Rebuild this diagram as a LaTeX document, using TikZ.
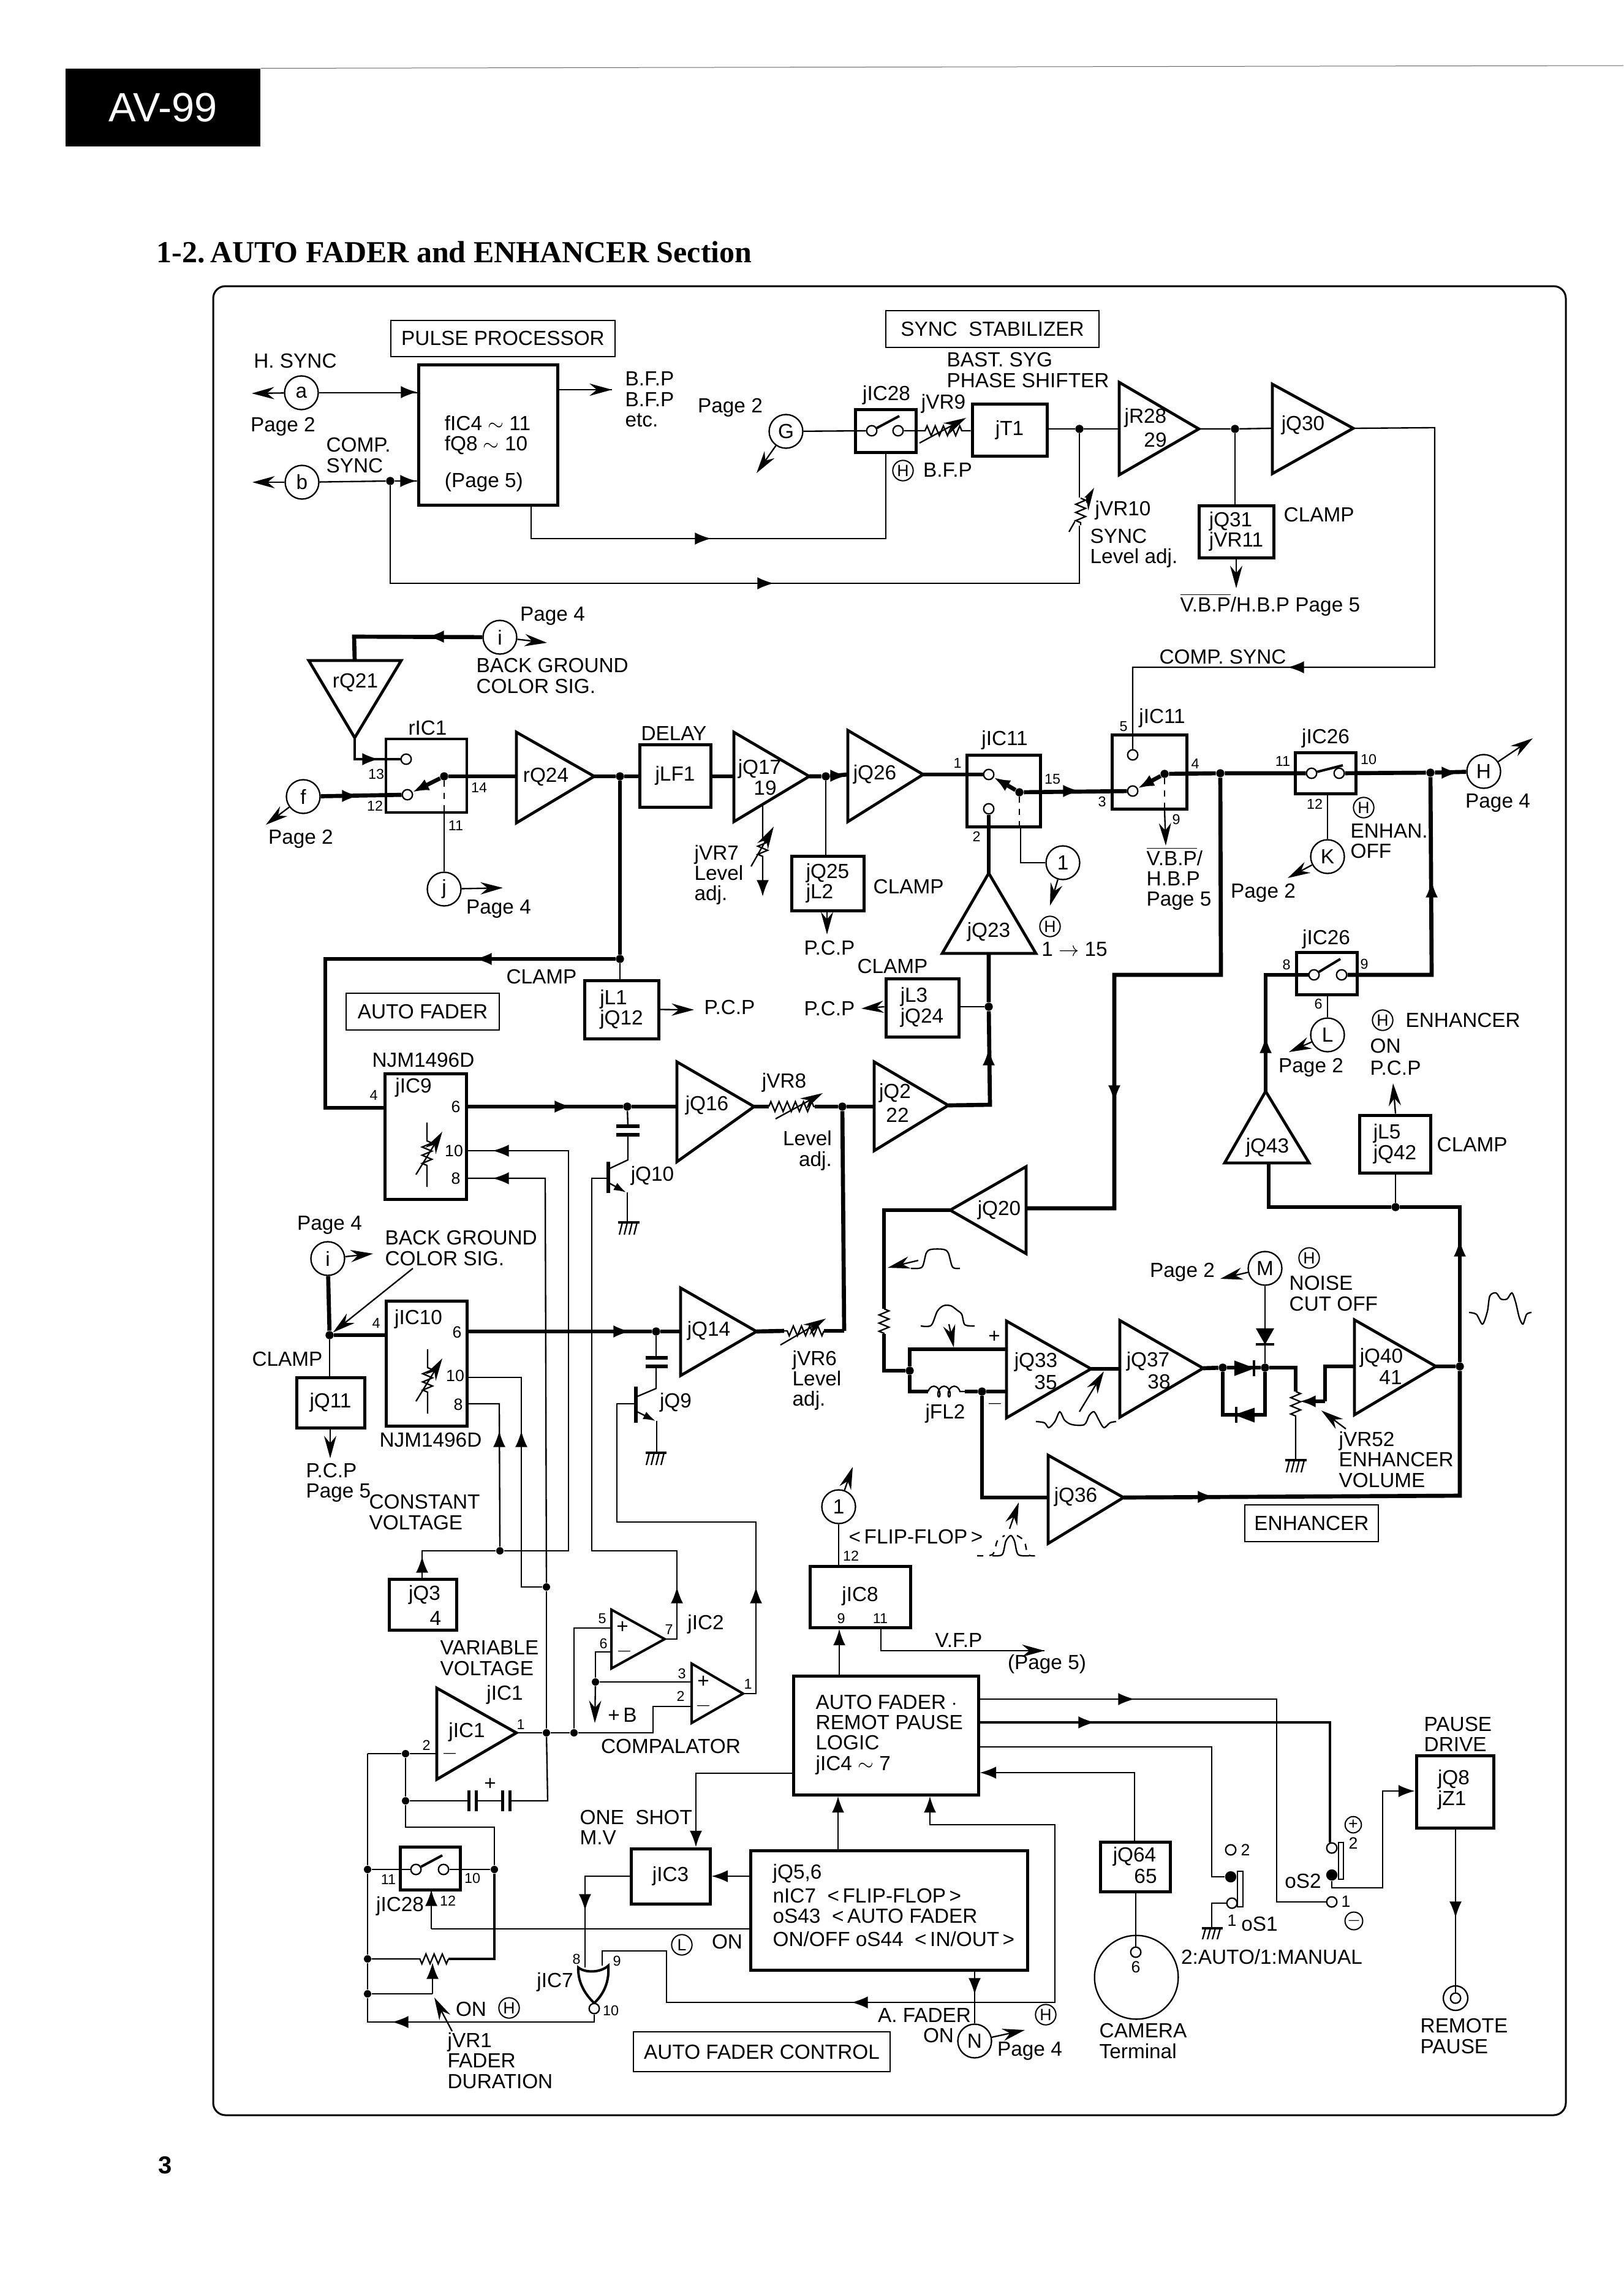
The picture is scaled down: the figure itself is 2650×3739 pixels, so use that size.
\documentclass[tikz,border=0pt]{standalone}
\usepackage{fontspec}
\usepackage{amsmath,amssymb}
\setmainfont{Liberation Sans}
\newfontfamily\titlefont{Liberation Serif}
\usetikzlibrary{arrows.meta,shapes.geometric,decorations.pathmorphing}
\begin{document}
\begin{tikzpicture}[x=0.3pt,y=-0.3pt]
\tikzstyle{every node}+=[inner sep=0pt]
\tikzstyle{lbl}=[font=\fontsize{10}{10}\selectfont,align=left]
\tikzstyle{lblw}=[lbl,anchor=west]
\tikzstyle{pin}=[font=\fontsize{7}{8}\selectfont]
\tikzstyle{blk}=[draw=black,line width=1.5pt,lbl]
\tikzstyle{tag}=[draw=black,line width=.7pt,lbl]
\tikzstyle{port}=[draw=black,line width=.7pt,circle,minimum size=16.5pt,lbl]
\tikzstyle{hport}=[draw=black,line width=.6pt,circle,minimum size=10pt,font=\fontsize{8}{8}\selectfont]
\tikzstyle{dot}=[circle,fill=black,minimum size=4pt]
\tikzstyle{term}=[draw=black,line width=.7pt,fill=white,circle,minimum size=5pt]
\tikzstyle{amp}=[draw=black,line width=1.4pt,line join=miter]
\tikzstyle{sig}=[line width=2pt]
\tikzstyle{wire}=[line width=.7pt]
\tikzstyle{ah}=[line width=.7pt,-{Latex[length=8pt,width=6pt]}]
\tikzstyle{flag}=[line width=.7pt,-{Stealth[length=11pt,width=6pt]}]
\tikzstyle{zig}=[decoration={zigzag,segment length=4pt,amplitude=2.4pt}]
\tikzstyle{coilz}=[decoration={coil,aspect=.6,segment length=5pt,amplitude=2.6pt}]
\useasboundingbox (0,0) rectangle (2650,3739);
\node [fill=black,text=white,minimum width=95.4pt,minimum height=38pt,font=\fontsize{20}{20}\selectfont] (hdr) at (266,175.5) {AV-99};
\draw [black!60,line width=.3pt] (hdr.north east) -- (2650,107) coordinate (rule);
\node [anchor=west,font=\titlefont\bfseries\fontsize{15}{18}\selectfont] (title) at (255,412) {1-2.\,AUTO FADER and ENHANCER Section};
\node [font=\bfseries\fontsize{12}{12}\selectfont] (pageno) at (270,3534) {3};
\draw [black,line width=.9pt,rounded corners=6pt] (348,467) rectangle (2556,3452);
\node [blk,minimum width=68.1pt,minimum height=68.7pt] (fic) at (796.5,709.5) {};
\node [tag,minimum width=109.8pt,minimum height=17.7pt] (pptag) at (821,552.5) {PULSE PROCESSOR};
\node [tag,minimum width=104.4pt,minimum height=18pt] (sstag) at (1620,537) {SYNC\ \ STABILIZER};
\node [blk,minimum width=29.7pt,minimum height=21pt] (swa) at (1445.5,703) {};
\node [blk,minimum width=36.6pt,minimum height=25.5pt] (jt1) at (1648,701.5) {jT1};
\node [blk,minimum width=36.6pt,minimum height=25.5pt] (jq31) at (2018,867.5) {jQ31\\jVR11};
\node [draw=black,line width=1.2pt,minimum width=39.6pt,minimum height=36pt] (ric1) at (696,1266) {};
\node [blk,minimum width=34.8pt,minimum height=30.6pt] (jlf1) at (1102,1266) {jLF1};
\node [blk,minimum width=35.4pt,minimum height=26.7pt] (jq25) at (1351,1441.5) {jQ25\\jL2};
\node [blk,minimum width=36.3pt,minimum height=28.5pt] (jl1) at (1014.5,1647.5) {jL1\\jQ12};
\node [tag,minimum width=75pt,minimum height=18pt] (aftag) at (690,1651) {AUTO FADER};
\node [blk,minimum width=39.9pt,minimum height=61.5pt] (jic9) at (694.5,1854.5) {};
\node [blk,minimum width=39.6pt,minimum height=61.2pt] (jic10) at (696,2225) {};
\node [blk,minimum width=33.3pt,minimum height=24.6pt] (jq11) at (539.5,2289) {jQ11};
\node [blk,minimum width=33pt,minimum height=24.9pt] (jq3) at (690,2618.5) {};
\node [blk,minimum width=29.4pt,minimum height=21pt] (swl) at (702,3049) {};
\node [blk,minimum width=38.7pt,minimum height=27pt] (jic3) at (1094.5,3062) {jIC3};
\node [blk,minimum width=90.6pt,minimum height=58.2pt] (logic) at (1446,2832) {};
\node [blk,minimum width=135.6pt,minimum height=58.5pt] (jqbig) at (1451,3117.5) {};
\node [blk,minimum width=49.2pt,minimum height=30pt] (jic8) at (1404,2606) {};
\node [blk,minimum width=34.2pt,minimum height=24.3pt] (jq64) at (1853,3046.5) {};
\node [blk,minimum width=37.8pt,minimum height=35.4pt] (jq8) at (2375,2924) {};
\node [tag,minimum width=125.7pt,minimum height=19.5pt] (afctag) at (1243.5,3348.5) {AUTO FADER CONTROL};
\node [tag,minimum width=65.4pt,minimum height=18pt] (enhtag) at (2141,2486) {ENHANCER};
\node [blk,minimum width=36pt,minimum height=35.1pt] (jica) at (1638,1290.5) {};
\node [blk,minimum width=36.6pt,minimum height=36.3pt] (jicb) at (1876,1259.5) {};
\node [blk,minimum width=29.7pt,minimum height=20.1pt] (jicc) at (2163.5,1261.5) {};
\node [blk,minimum width=29.7pt,minimum height=20.7pt] (jicd) at (2165.5,1588.5) {};
\node [blk,minimum width=35.7pt,minimum height=28.5pt] (jl3) at (1505.5,1644.5) {};
\node [blk,minimum width=34.8pt,minimum height=28.2pt] (jl5) at (2277,1867) {};
\node [port] (pa) at (492,641) {a};
\node [port] (pb) at (493,787) {b};
\node [port] (pg) at (1283,704) {G};
\node [port] (pi) at (816,1040) {i};
\node [port] (pf) at (495,1300) {f};
\node [port] (pj) at (725,1451) {j};
\node [port] (pone) at (1735,1408) {1};
\node [port] (pk) at (2167,1398) {K};
\node [port] (pl) at (2167,1689) {L};
\node [port] (ph) at (2422,1259) {H};
\node [port] (pii) at (535,2054) {i};
\node [port] (pm) at (2065,2070) {M};
\node [port] (ponb) at (1369,2459) {1};
\node [port] (pn) at (1591,3331) {N};
\node [hport] (ha) at (1474,768) {H};
\node [hport] (hb) at (1714,1512) {H};
\node [hport] (hc) at (2226,1318) {H};
\node [hport] (hd) at (2257,1665) {H};
\node [hport] (he) at (2137,2053) {H};
\node [hport] (hf) at (831,3277) {H};
\node [hport] (hg) at (1707,3288) {H};
\node [hport] (hl) at (1113,3174) {L};
\node [hport,minimum size=8pt] (hplus) at (2209,2978) {+};
\node [hport,minimum size=8pt] (hminus) at (2210,3135) {$-$};
\node [dot] (db) at (637,785) {};
\node [dot] (da) at (1762,700) {};
\node [dot] (dc) at (2016,700) {};
\node [dot] (dd) at (1012,1267) {};
\node [dot] (de) at (1348,1267) {};
\node [dot] (df) at (1012,1565) {};
\node [dot] (dg) at (1024,1806) {};
\node [dot] (dh) at (1375,1806) {};
\node [dot] (dj) at (1614,1643) {};
\node [dot] (dk) at (538,2179) {};
\node [dot] (dl) at (1071,2173) {};
\node [dot,minimum size=3.6pt] (dm) at (816,2531) {};
\node [dot,minimum size=3.6pt] (dn) at (892,2590) {};
\node [dot,minimum size=3.6pt] (dp) at (892,2828) {};
\node [dot,minimum size=3.6pt] (dq) at (937,2828) {};
\node [dot,minimum size=3.6pt] (dr) at (972,2745) {};
\node [dot,minimum size=3.6pt] (ds) at (662,2862) {};
\node [dot,minimum size=3.6pt] (dt) at (662,2939) {};
\node [dot,minimum size=3.6pt] (du) at (807,3051) {};
\node [dot,minimum size=3.6pt] (dv) at (600,3051) {};
\node [dot,minimum size=3.6pt] (dw) at (600,3197) {};
\node [dot,minimum size=3.6pt] (dx) at (600,3254) {};
\node [dot] (dy) at (1992,1262) {};
\node [dot] (dz) at (2335,1261) {};
\node [dot] (dda) at (2278,1970) {};
\node [dot] (ddb) at (1485,2237) {};
\node [dot] (ddc) at (1603,2271) {};
\node [dot] (ddd) at (1996,2232) {};
\node [dot] (dde) at (2065,2232) {};
\node [dot] (ddf) at (2383,2230) {};
\node [dot] (piva) at (725,1267) {};
\node [dot] (pivb) at (1664,1293) {};
\node [dot] (pivc) at (1901,1263) {};
\node [dot,minimum size=5.5pt] (sa) at (2009,3063) {};
\node [dot,minimum size=5.5pt] (sb) at (2174,3060) {};
\node [term] (tsa) at (1423,703) {};
\node [term] (tsb) at (1466,703) {};
\node [term] (tra) at (663,1239) {};
\node [term] (trb) at (665,1297) {};
\node [term] (taa) at (1614,1264) {};
\node [term] (tab) at (1614,1320) {};
\node [term] (tba) at (1849,1232) {};
\node [term] (tbb) at (1849,1291) {};
\node [term] (tca) at (2141,1262) {};
\node [term] (tcb) at (2186,1262) {};
\node [term] (tda) at (2145,1591) {};
\node [term] (tdb) at (2190,1591) {};
\node [term] (tla) at (679,3051) {};
\node [term] (tlb) at (724,3051) {};
\node [term] (tua) at (2009,3019) {};
\node [term] (tub) at (2011,3106) {};
\node [term] (tva) at (2174,3016) {};
\node [term] (tvb) at (2174,3104) {};
\node [draw=black,line width=.7pt,circle,minimum size=41pt] (cam) at (1855,3227) {};
\node [term] (tcam) at (1854,3186) {};
\node [draw=black,line width=.7pt,circle,minimum size=12pt] (remo) at (2376,3261) {};
\node [term] (trem) at (2376,3261) {};
\draw [amp] (1827,624) -- (1957,700) coordinate (rao) -- (1827,775) -- cycle (1827,700) coordinate (rai);
\draw [amp] (2077,627) -- (2209,699) coordinate (qao) -- (2077,773) -- cycle (2077,699) coordinate (qai);
\draw [amp] (504,1078) -- (655,1078) -- (579,1204) coordinate (rqo) -- cycle (579,1078) coordinate (rqi);
\draw [amp] (843,1195) -- (970,1267) coordinate (rbo) -- (843,1343) -- cycle (843,1267) coordinate (rbi);
\draw [amp] (1198,1195) -- (1321,1267) coordinate (qbo) -- (1198,1341) -- cycle (1198,1267) coordinate (qbi);
\draw [amp] (1384,1192) -- (1507,1264) coordinate (qco) -- (1384,1341) -- cycle (1384,1264) coordinate (qci);
\draw [amp] (1538,1556) -- (1614,1425) coordinate (qdo) -- (1691,1556) -- cycle (1614,1556) coordinate (qdi);
\draw [amp] (1427,1733) -- (1548,1804) coordinate (qeo) -- (1427,1878) -- cycle (1427,1806) coordinate (qei);
\draw [amp] (1105,1733) -- (1231,1806) coordinate (qfo) -- (1105,1896) -- cycle (1105,1806) coordinate (qfi);
\draw [amp] (1111,2102) -- (1235,2173) coordinate (qgo) -- (1111,2245) -- cycle (1111,2173) coordinate (qgi);
\draw [amp] (1675,1904) -- (1551,1975) coordinate (qho) -- (1675,2046) -- cycle (1675,1972) coordinate (qhi);
\draw [amp] (1999,1898) -- (2066,1781) coordinate (qjo) -- (2137,1898) -- cycle (2071,1898) coordinate (qji);
\draw [amp] (1643,2156) -- (1781,2234) coordinate (qko) -- (1643,2314) -- cycle;
\draw [amp] (1828,2155) -- (1964,2233) coordinate (qlo) -- (1828,2313) -- cycle (1828,2234) coordinate (qli);
\draw [amp] (2211,2154) -- (2344,2230) coordinate (qmo) -- (2211,2309) -- cycle (2211,2230) coordinate (qmi);
\draw [amp] (1711,2375) -- (1834,2444) coordinate (qno) -- (1711,2519) -- cycle (1711,2444) coordinate (qni);
\draw [amp] (713,2755) -- (843,2828) coordinate (ica) -- (713,2904) -- cycle (713,2862) coordinate (icb);
\draw [line width=1.2pt] (998,2627) -- (1085,2675) coordinate (ocao) -- (998,2723) -- cycle (998,2657) coordinate (ocap) (998,2696) coordinate (ocam);
\draw [line width=1.2pt] (1129,2715) -- (1213,2764) coordinate (ocbo) -- (1129,2812) -- cycle (1129,2745) coordinate (ocbp) (1129,2785) coordinate (ocbm);
\draw [line width=1.2pt] (944,3211) coordinate (gta) .. controls (955,3220) and (980,3220) .. (993,3208) coordinate (gtb) .. controls (995,3235) and (985,3255) .. (970,3269) coordinate (gtc) .. controls (955,3255) and (943,3235) .. (944,3211) -- cycle;
\node [term,minimum size=5pt] (gbub) at (970,3278) {};
\draw [wire] (pa) -- (pa -| fic.west);
\draw [flag] (pa) -- (411,642) coordinate (atip);
\draw [wire] (pb) -- (db) -- (db -| fic.west);
\draw [flag] (pb) -- (412,787) coordinate (btip);
\draw [wire] (fic.east |- 0,636) -- (999,636) coordinate (bfptip);
\draw [flag] (950,636) -- (bfptip);
\draw [wire] (db) -- (637,952) -- (1762,952) -- (da);
\draw [wire] (fic.south -| 867,0) -- (867,879) -- (1446,879) -- (swa.south -| 1446,0);
\draw [wire] (pg) -- (tsa);
\draw [flag] (pg) -- (1235,772) coordinate (gtip);
\draw [wire] (tsb) -- (swa.east |- tsb) -- (1510,703) decorate [zig] {-- (1570,703)} -- (jt1.west |- tsb);
\draw [line width=1.2pt] (tsa) -- (1468,679) coordinate (swatip);
\draw [flag] (1501,723) -- (1577,682) coordinate (vrninetip);
\draw [wire] (jt1.east |- da) -- (da) -- (rai);
\draw [wire] (rao) -- (dc) -- (qai);
\draw [wire] (dc) -- (dc |- jq31.north);
\draw [flag] (jq31.south -| 2018,0) -- (2018,960) coordinate (qctip);
\draw [wire] (qao) -- (2342,698) -- (2342,1089) -- (1849,1089) -- (tba);
\draw [flag] (1745,868) -- (1786,796) coordinate (vrtentip);
\draw [line width=.8pt,fill=white,draw=white] (1756,813) rectangle (1772,857);
\draw [wire] (1764,813) decorate [zig] {-- (1764,857)};
\draw [sig] (pi) -- (578,1039) -- (rqi);
\draw [flag] (pi) -- (893,1049) coordinate (itip);
\draw [line width=1.3pt] (rqo) -- (579,1239) -- (tra);
\draw [sig] (pf) -- (trb);
\draw [flag] (pf) -- (434,1346) coordinate (ftip);
\draw [sig] (piva) -- (rbi);
\draw [sig,-{Latex[length=8pt,width=6pt]}] (piva) -- (trb);
\draw [wire,dashed] (piva) -- (piva |- ric1.south);
\draw [wire] (piva |- ric1.south) -- (pj);
\draw [flag] (pj) -- (821,1449) coordinate (jtip);
\draw [sig] (rbo) -- (dd) -- (jlf1.west |- dd);
\draw [sig] (jlf1.east |- qbi) -- (qbi);
\draw [sig] (qbo) -- (de) -- (qci);
\draw [sig] (dd) -- (df) -- (531,1565) -- (531,1808) -- (jic9.west |- 0,1808);
\draw [wire] (df) -- (df |- jl1.north);
\draw [flag] (jl1.east) -- (1133,1648) coordinate (jltip);
\draw [wire] (de) -- (de |- jq25.north);
\draw [flag] (jq25.south -| 1350,0) -- (1350,1525) coordinate (jqtip);
\draw [wire] (1245,1315) -- (1245,1371) decorate [zig] {-- (1245,1398)} -- (1245,1440);
\draw [ah] (1245,1430) -- (1245,1463);
\draw [flag] (1226,1414) -- (1263,1349) coordinate (vrstip);
\draw [sig] (jic9.east |- dg) -- (dg) -- (qfi);
\draw [wire] (jic9.east |- 0,1878) -- (928,1878) -- (928,2531) -- (dm);
\draw [wire] (jic9.east |- 0,1923) -- (890,1923) -- (dn);
\draw [wire] (dn) -- (dp);
\draw [wire] (jic10.east |- 0,2248) -- (851,2248) -- (851,2590) -- (dn);
\draw [wire] (jic10.east |- 0,2291) -- (815,2291) -- (dm);
\draw [wire] (dm) -- (689,2531) -- (jq3.north -| 689,0);
\draw [sig] (qfo) -- (1255,1806);
\draw [wire] (1255,1806) decorate [zig] {-- (1330,1806)};
\draw [sig] (1330,1806) -- (dh) -- (qei);
\draw [flag] (1266,1826) -- (1343,1784) coordinate (vretip);
\draw [sig] (dh) -- (1378,2172);
\draw [sig] (1378,2172) -- (1345,2172);
\draw [wire] (1345,2172) decorate [zig] {-- (1280,2172)};
\draw [sig] (1280,2172) -- (qgo);
\draw [flag] (1274,2195) -- (1348,2152) coordinate (vrxtip);
\draw [sig] (qeo) -- (1616,1803) -- (dj) -- (qdi);
\draw [wire] (jl3.east |- dj) -- (dj);
\draw [flag] (jl3.west |- dj) -- (1406,1646) coordinate (jlctip);
\draw [sig] (qdo) -- (tab);
\draw [sig] (qco) -- (taa);
\draw [sig,-{Latex[length=8pt,width=6pt]}] (pivb) -- (taa);
\draw [sig] (pivb) -- (tbb);
\draw [wire,dashed] (pivb) -- (pivb |- jica.south);
\draw [wire] (1666,1349) -- (1666,1408) -- (pone);
\draw [flag] (pone) -- (1714,1478) coordinate (onetip);
\draw [sig,-{Latex[length=8pt,width=6pt]}] (pivc) -- (tbb);
\draw [wire,dashed] (pivc) -- (pivc |- jicb.south);
\draw [flag] (pivc |- jicb.south) -- (1903,1380) coordinate (nintip);
\draw [sig] (pivc) -- (dy) -- (tca);
\draw [line width=1.2pt] (tca) -- (2192,1249) coordinate (swctip);
\draw [sig] (tcb) -- (dz) -- (ph);
\draw [flag] (ph) -- (2502,1205) coordinate (htip);
\draw [wire] (jicc.south -| 2167,0) -- (pk);
\draw [flag] (pk) -- (2102,1433) coordinate (ktip);
\draw [sig] (dy) -- (1993,1591) -- (1819,1591) -- (1819,1972) -- (qhi);
\draw [sig] (qho) -- (1443,1975) -- (1443,2136);
\draw [wire] (1443,2136) decorate [zig] {-- (1443,2177)};
\draw [sig] (1443,2177) -- (1443,2237) -- (ddb);
\draw [sig] (ddb) -- (1485,2202) -- (1643,2202);
\draw [sig] (ddb) -- (1485,2271) -- (1515,2271);
\draw [wire] (1515,2271) decorate [coilz] {-- (1575,2271)};
\draw [sig] (1575,2271) -- (ddc) -- (1643,2271);
\draw [sig] (ddc) -- (1603,2444) -- (qni);
\draw [sig] (qko) -- (qli);
\draw [sig] (qlo) -- (ddd);
\draw [wire,fill=black] (2016,2222) -- (2045,2233) -- (2016,2244) -- cycle;
\draw [line width=1.3pt] (2047,2220) -- (2047,2246);
\draw [sig] (ddd) -- (dde);
\draw [sig] (ddd) -- (1996,2309) -- (2065,2309) -- (dde);
\draw [wire,fill=black] (2047,2299) -- (2018,2309) -- (2047,2320) -- cycle;
\draw [line width=1.3pt] (2018,2296) -- (2018,2322);
\draw [wire] (pm) -- (2065,2169);
\draw [wire,fill=black] (2052,2169) -- (2078,2169) -- (2065,2192) -- cycle;
\draw [line width=1.3pt] (2050,2194) -- (2080,2194);
\draw [wire] (2065,2194) -- (dde);
\draw [flag] (pm) -- (1992,2087) coordinate (mtip);
\draw [sig] (dde) -- (2115,2232) -- (2115,2271);
\draw [wire] (2115,2271) decorate [zig] {-- (2115,2312)} -- (2115,2383);
\draw [line width=1.2pt] (2098,2383) -- (2133,2383);
\draw [wire] (2105,2383) -- (2100,2403) (2113,2383) -- (2108,2403) (2121,2383) -- (2116,2403) (2129,2383) -- (2124,2403);
\draw [sig] (qmi) -- (2163,2230) -- (2163,2287);
\draw [sig,-{Latex[length=8pt,width=6pt]}] (2163,2287) -- (2121,2287);
\draw [sig] (qmo) -- (ddf);
\draw [sig] (qno) -- (2383,2441) -- (ddf);
\draw [sig] (ddf) -- (2383,1970) -- (dda) -- (2071,1970) -- (qji);
\draw [wire] (dda) -- (jl5.south -| dda);
\draw [sig] (qjo) -- (2066,1591) -- (tda);
\draw [line width=1.2pt] (tda) -- (2188,1565) coordinate (swdtip);
\draw [sig] (tdb) -- (2337,1591) -- (dz);
\draw [wire] (jicd.south -| 2167,0) -- (pl);
\draw [flag] (pl) -- (2104,1717) coordinate (ltip);
\draw [flag] (jl5.north -| 2278,0) -- (2274,1768) coordinate (pcptip);
\draw [sig] (pii) -- (dk);
\draw [sig] (dk) -- (jic10.west |- dk);
\draw [flag] (pii) -- (609,2046) coordinate (iitip);
\draw [flag] (674,2070) -- (dk);
\draw [wire] (dk) -- (dk |- jq11.north);
\draw [flag] (jq11.south -| 539,0) -- (539,2380) coordinate (jqetip);
\draw [sig] (jic10.east |- dl) -- (dl) -- (qgi);
\draw [wire] (dg) -- (1025,1838);
\draw [line width=1.6pt] (1006,1838) -- (1044,1838);
\draw [line width=1.6pt] (1006,1852) -- (1044,1852);
\draw [wire] (1025,1852) -- (1025,1893) -- (993,1908);
\draw [line width=1.6pt] (993,1896) -- (993,1947);
\draw [wire,-{Latex[length=6pt,width=4pt]}] (993,1930) -- (1022,1946);
\draw [wire] (1024,1946) -- (1024,1995);
\draw [line width=1.2pt] (1009,1995) -- (1044,1995);
\draw [wire] (1016,1995) -- (1011,2015) (1024,1995) -- (1019,2015) (1032,1995) -- (1027,2015) (1040,1995) -- (1035,2015);
\draw [wire] (993,1923) -- (966,1923) -- (966,2531) -- (1105,2531) -- (1105,2675) -- (ocao);
\draw [wire] (dl) -- (1071,2216);
\draw [line width=1.6pt] (1054,2216) -- (1090,2216);
\draw [line width=1.6pt] (1054,2230) -- (1090,2230);
\draw [wire] (1071,2230) -- (1071,2266) -- (1038,2280);
\draw [line width=1.6pt] (1038,2263) -- (1038,2322);
\draw [wire,-{Latex[length=6pt,width=4pt]}] (1038,2303) -- (1070,2319);
\draw [wire] (1072,2319) -- (1072,2371);
\draw [line width=1.2pt] (1054,2371) -- (1088,2371);
\draw [wire] (1060,2371) -- (1055,2391) (1068,2371) -- (1063,2391) (1076,2371) -- (1071,2391) (1084,2371) -- (1079,2391);
\draw [wire] (1038,2291) -- (1007,2291) -- (1007,2484) -- (1234,2484) -- (1234,2764) -- (ocbo);
\draw [wire] (ica) -- (dp) -- (dq) -- (1066,2828) -- (1066,2785) -- (ocbm);
\draw [wire] (dq) -- (937,2657) -- (ocap);
\draw [wire] (ocam) -- (972,2696) -- (dr) -- (ocbp);
\draw [flag] (dr) -- (971,2812) coordinate (pbtip);
\draw [wire] (600,2862) -- (ds) -- (icb);
\draw [wire] (ds) -- (dt) -- (765,2939);
\draw [line width=1.5pt] (765,2922) -- (765,2956) (777,2922) -- (777,2956);
\draw [wire] (777,2939) -- (820,2939);
\draw [line width=1.5pt] (820,2922) -- (820,2956) (832,2922) -- (832,2956);
\draw [wire] (832,2939) -- (894,2939) -- (dp);
\draw [wire] (dt) -- (662,2982) -- (807,2982) -- (du);
\draw [line width=1pt] (du) -- (807,3197) -- (732,3197);
\draw [wire] (732,3197) decorate [zig] {-- (680,3197)} -- (dw);
\draw [wire] (600,2862) -- (dv) -- (dw) -- (dx);
\draw [wire] (dx) -- (600,3300) -- (970,3300) -- (gbub);
\draw [wire] (dv) -- (tla);
\draw [wire] (tlb) -- (du);
\draw [line width=1.2pt] (tla) -- (722,3028) coordinate (swltip);
\draw [wire] (dx) -- (706,3254);
\draw [ah] (706,3254) -- (706,3203);
\draw [wire] (jqbig.west |- 0,3148) -- (704,3148);
\draw [ah] (704,3148) -- (704,3084);
\draw [flag] (738,3315) -- (709,3260) coordinate (vratip);
\draw [wire] (logic.west |- 0,2894) -- (1136,2894) -- (1136,2990);
\draw [ah] (1136,2985) -- (jic3.north -| 1136,0);
\draw [ah] (jqbig.west |- jic3) -- (jic3.east);
\draw [wire] (jic3.west) -- (955,3062) -- (gta -| 955,0);
\draw [wire] (gtb -| 983,0) -- (983,3184) -- (1088,3184) -- (1088,3268) -- (1722,3268) -- (1722,2978) -- (1518,2978) -- (1518,2950);
\draw [ah] (1518,2955) -- (logic.south -| 1518,0);
\draw [wire] (jqbig.north -| 1368,0) -- (1368,2955);
\draw [ah] (1368,2955) -- (logic.south -| 1368,0);
\draw [wire] (logic.north -| 1370,0) -- (1370,2685);
\draw [ah] (1370,2685) -- (jic8.south -| 1370,0);
\draw [wire] (jqbig.south -| 1591,0) -- (pn);
\draw [flag] (pn) -- (1673,3313) coordinate (ntip);
\draw [wire] (jic8.south -| 1438,0) -- (1438,2694) -- (1705,2694) coordinate (vfptip);
\draw [flag] (1660,2694) -- (vfptip);
\draw [wire] (ponb) -- (jic8.north -| ponb);
\draw [flag] (ponb) -- (1392,2394) coordinate (oneatip);
\draw [wire] (logic.east |- 0,2773) -- (2084,2773) -- (2084,3104) -- (tvb);
\draw [line width=1.1pt] (logic.east |- 0,2811) -- (2171,2811) -- (2171,3006) -- (tva);
\draw [wire] (logic.east |- 0,2851) -- (1978,2851) -- (1978,3063) -- (sa);
\draw [wire] (tub) -- (1978,3106) -- (1978,3147);
\draw [line width=1.2pt] (1962,3147) -- (1996,3147);
\draw [wire] (1968,3147) -- (1963,3165) (1976,3147) -- (1971,3165) (1984,3147) -- (1979,3165) (1992,3147) -- (1987,3165);
\draw [wire] (2020,3054) rectangle (2029,3112);
\draw [wire] (2185,3007) rectangle (2193,3067);
\draw [wire] (sb) -- (2174,3081) -- (2257,3081) -- (2257,2923) -- (2290,2923);
\draw [ah] (2285,2923) -- (jq8.west |- 0,2923);
\draw [wire] (jq64.north -| 1852,0) -- (1852,2893) -- (1630,2893);
\draw [ah] (1630,2893) -- (logic.east |- 0,2893);
\draw [wire] (jq64.south -| 1854,0) -- (tcam);
\draw [wire] (jq8.south -| 2376,0) -- (trem);
\draw [ah] (1133,879) -- (1161,879);
\draw [ah] (1235,952) -- (1263,952);
\draw [ah] (658,640) -- (681,640);
\draw [ah] (652,785) -- (680,785);
\draw [ah] (2130,1089) -- (2102,1089);
\draw [ah] (728,1039) -- (698,1039);
\draw [ah] (590,1239) -- (618,1239);
\draw [ah] (555,1299) -- (585,1299);
\draw [ah] (1355,1266) -- (1382,1266);
\draw [ah] (810,1565) -- (776,1565);
\draw [ah] (902,1806) -- (932,1806);
\draw [ah] (832,1878) -- (804,1878);
\draw [ah] (832,1923) -- (804,1923);
\draw [ah] (815,2362) -- (815,2335);
\draw [ah] (851,2362) -- (851,2335);
\draw [ah] (689,2577) -- (689,2540);
\draw [ah] (998,2173) -- (1028,2173);
\draw [ah] (1105,2622) -- (1105,2590);
\draw [ah] (1234,2622) -- (1234,2590);
\draw [ah] (1614,1742) -- (1614,1712);
\draw [ah] (1730,1291) -- (1762,1291);
\draw [ah] (1819,1765) -- (1819,1798);
\draw [ah] (2352,1261) -- (2380,1261);
\draw [ah] (2337,1468) -- (2337,1438);
\draw [ah] (2066,1722) -- (2066,1692);
\draw [ah] (2383,2058) -- (2383,2024);
\draw [ah] (1950,2443) -- (1982,2443);
\draw [ah] (955,3088) -- (955,3118);
\draw [ah] (672,3300) -- (640,3300);
\draw [ah] (1422,3268) -- (1390,3268);
\draw [ah] (1591,3225) -- (1591,3255);
\draw [ah] (1820,2773) -- (1852,2773);
\draw [ah] (1755,2811) -- (1787,2811);
\draw [ah] (2376,3098) -- (2376,3130);
\draw [flag] (1499,2057) -- (1449,2069) coordinate (waatip);
\draw [flag] (1549,2161) -- (1557,2199) coordinate (wabtip);
\draw [flag] (1762,2304) -- (1802,2238) coordinate (wactip);
\draw [flag] (1648,2495) -- (1663,2452) coordinate (wadtip);
\draw [flag] (2197,2332) -- (2157,2302) coordinate (vrftip);
\draw [wire] plot [smooth] coordinates {(1487,2070) (1505,2068) (1512,2045) (1520,2039) (1540,2039) (1548,2045) (1555,2068) (1567,2070)};
\draw [wire] plot [smooth] coordinates {(1503,2164) (1520,2163) (1530,2140) (1540,2131) (1552,2131) (1562,2138) (1570,2145) (1575,2162) (1591,2164)};
\draw [wire] plot [smooth] coordinates {(1691,2320) (1705,2322) (1712,2330) (1722,2320) (1730,2304) (1738,2318) (1750,2325) (1770,2325) (1778,2310) (1786,2304) (1794,2318) (1802,2330) (1812,2322) (1822,2320)};
\draw [wire] plot [smooth] coordinates {(2398,2142) (2410,2145) (2420,2161) (2428,2140) (2432,2115) (2442,2110) (2450,2120) (2460,2120) (2468,2110) (2474,2125) (2480,2150) (2486,2161) (2492,2145) (2500,2142)};
\draw [wire] plot [smooth] coordinates {(1620,2539) (1636,2537) (1642,2515) (1650,2506) (1656,2515) (1662,2537) (1680,2539)};
\draw [wire,dashed] plot [smooth] coordinates {(1595,2539) (1620,2537) (1628,2515) (1640,2506)};
\draw [wire,dashed] plot [smooth] coordinates {(1660,2506) (1672,2515) (1678,2537) (1691,2539)};
\draw [wire] (697,1832) -- (697,1862) decorate [zig] {-- (697,1902)} -- (697,1937);
\draw [flag] (679,1917) -- (722,1847) coordinate (vrgtip);
\draw [wire] (698,2202) -- (698,2232) decorate [zig] {-- (698,2272)} -- (698,2307);
\draw [flag] (679,2287) -- (722,2217) coordinate (vrhtip);
\node [lbl] (thsync) at (482,589) {H. SYNC};
\node [lbl] (tpa) at (462,696) {Page 2};
\node [lblw] (tcomp) at (532,743) {COMP.\\SYNC};
\node [lbl] (tfic) at (796,740) {fIC4 $\sim$ 11\\fQ8 $\sim$ 10\\[1.5ex](Page 5)};
\node [lblw] (tbfp) at (1020,652) {B.F.P\\B.F.P\\etc.};
\node [lbl] (tpg) at (1192,665) {Page 2};
\node [lbl] (tsw) at (1447,645) {jIC28};
\node [lbl] (tvra) at (1540,659) {jVR9};
\node [lbl] (thb) at (1547,767) {B.F.P};
\node [lblw] (tbast) at (1545,604) {BAST. SYG\\PHASE SHIFTER};
\node [lbl] (txra) at (1870,682) {jR28};
\node [lbl] (txrb) at (1886,718) {29};
\node [lbl] (tqa) at (2127,694) {jQ30};
\node [lblw] (tvrb) at (1787,833) {jVR10};
\node [lblw] (tsync) at (1779,895) {SYNC\\Level adj.};
\node [lblw] (tclampa) at (2095,840) {CLAMP};
\node [lblw] (tvbp) at (1926,987) {$\overline{\mbox{V.B.P}}$/H.B.P Page 5};
\node [lbl] (tcs) at (1996,1072) {COMP. SYNC};
\node [lbl] (tpi) at (902,1005) {Page 4};
\node [lblw] (tbg) at (777,1103) {BACK GROUND\\COLOR SIG.};
\node [lbl] (trq) at (580,1114) {rQ21};
\node [lbl] (tric) at (698,1188) {rIC1};
\node [pin] (tpc) at (614,1263) {13};
\node [pin] (tpd) at (612,1315) {12};
\node [pin] (tpe) at (782,1285) {14};
\node [pin] (tpf) at (744,1347) {11};
\node [lbl] (tpgb) at (491,1369) {Page 2};
\node [lbl] (tpj) at (814,1483) {Page 4};
\node [lbl] (trc) at (891,1268) {rQ24};
\node [lbl] (tdel) at (1100,1197) {DELAY};
\node [lbl] (tqb) at (1240,1255) {jQ17};
\node [lbl] (tqc) at (1249,1286) {19};
\node [lbl] (tqd) at (1428,1264) {jQ26};
\node [lblw] (tvrc) at (1133,1428) {jVR7\\Level\\adj.};
\node [lblw] (tclampb) at (1425,1447) {CLAMP};
\node [lbl] (tpcpa) at (1354,1547) {P.C.P};
\node [lbl] (tclampc) at (884,1594) {CLAMP};
\node [lbl] (tpcpb) at (1191,1644) {P.C.P};
\node [lbl] (tpcpc) at (1354,1646) {P.C.P};
\node [lbl] (tnjm) at (691,1730) {NJM1496D};
\node [lbl] (tic) at (675,1775) {jIC9};
\node [pin] (tpg4) at (610,1787) {4};
\node [pin,font=\fontsize{8}{8}\selectfont] (tph) at (744,1806) {6};
\node [pin,font=\fontsize{8}{8}\selectfont] (tpk) at (741,1878) {10};
\node [pin,font=\fontsize{8}{8}\selectfont] (tpl) at (744,1923) {8};
\node [lbl] (tqe) at (1154,1804) {jQ16};
\node [lbl] (tvrd) at (1280,1767) {jVR8};
\node [lbl,align=right] (tlvl) at (1318,1878) {Level\\adj.};
\node [lbl] (tqf) at (1461,1784) {jQ2};
\node [lbl] (tqg) at (1465,1820) {22};
\node [lbl] (tqh) at (1065,1919) {jQ10};
\node [lbl] (tclampd) at (1457,1577) {CLAMP};
\node [lbl] (tjl) at (1505,1644) {jL3\\jQ24};
\node [lbl] (tqj) at (1614,1521) {jQ23};
\node [lbl] (thd) at (1754,1549) {1 $\rightarrow$ 15};
\node [lbl] (tjca) at (1640,1208) {jIC11};
\node [pin] (tpm) at (1563,1245) {1};
\node [pin] (tpn) at (1718,1272) {15};
\node [pin] (tpp) at (1594,1365) {2};
\node [lbl] (tjcb) at (1897,1172) {jIC11};
\node [pin] (tpq) at (1834,1186) {5};
\node [pin] (tpr) at (1951,1246) {4};
\node [pin] (tps) at (1799,1308) {3};
\node [pin] (tpt) at (1920,1337) {9};
\node [lblw] (tvbb) at (1871,1434) {$\overline{\mbox{V.B.P}}$/\\H.B.P\\Page 5};
\node [lbl] (tjcc) at (2164,1205) {jIC26};
\node [pin] (tpu) at (2094,1242) {11};
\node [pin] (tpv) at (2234,1239) {10};
\node [pin] (tpw) at (2146,1312) {12};
\node [lblw] (tenh) at (2204,1373) {ENHAN.\\OFF};
\node [lbl] (tpk2) at (2062,1457) {Page 2};
\node [lbl] (tph4) at (2445,1310) {Page 4};
\node [lbl] (tjcd) at (2165,1533) {jIC26};
\node [pin] (tpx) at (2100,1574) {8};
\node [pin] (tpy) at (2227,1573) {9};
\node [pin] (tpz) at (2152,1638) {6};
\node [lbl] (tpl2) at (2140,1742) {Page 2};
\node [lblw] (tenon) at (2294,1665) {ENHANCER};
\node [lblw] (tonpcp) at (2236,1725) {ON\\[1pt]P.C.P};
\node [lbl] (tjlf) at (2277,1867) {jL5\\jQ42};
\node [lblw] (tclampe) at (2345,1868) {CLAMP};
\node [lbl] (tqk) at (2069,1873) {jQ43};
\node [lbl] (tql) at (1631,1975) {jQ20};
\node [lbl] (tpm2) at (1930,2076) {Page 2};
\node [lblw] (tnoise) at (2104,2111) {NOISE\\CUT OFF};
\node [lbl] (tqm) at (1691,2223) {jQ33};
\node [lbl] (tqn) at (1707,2256) {35};
\node [lbl] (tqp) at (1874,2222) {jQ37};
\node [lbl] (tqq) at (1892,2255) {38};
\node [lbl] (tqr) at (2255,2216) {jQ40};
\node [lbl] (tqs) at (2270,2248) {41};
\node [lbl] (tplus) at (1623,2182) {+};
\node [lbl] (tminus) at (1624,2291) {$-$};
\node [lbl] (tfl) at (1543,2307) {jFL2};
\node [lblw] (tvr52) at (2185,2382) {jVR52\\ENHANCER\\VOLUME};
\node [lbl] (tqt) at (1756,2443) {jQ36};
\node [lbl] (tff) at (1495,2508) {<\,FLIP-FLOP\,>};
\node [pin] (tpaa) at (1389,2539) {12};
\node [lbl] (tjqa) at (693,2603) {jQ3};
\node [lbl] (tjqb) at (711,2641) {4};
\node [lbl] (tpii) at (538,1999) {Page 4};
\node [lblw] (tbgb) at (628,2037) {BACK GROUND\\COLOR SIG.};
\node [lbl] (tcl) at (469,2218) {CLAMP};
\node [lblw] (tpcpd) at (499,2420) {P.C.P\\Page 5};
\node [lblw] (tcv) at (602,2468) {CONSTANT\\VOLTAGE};
\node [lbl] (tica) at (683,2153) {jIC10};
\node [pin] (tpab) at (614,2159) {4};
\node [pin,font=\fontsize{8}{8}\selectfont] (tpac) at (746,2174) {6};
\node [pin,font=\fontsize{8}{8}\selectfont] (tpad) at (743,2245) {10};
\node [pin,font=\fontsize{8}{8}\selectfont] (tpae) at (748,2292) {8};
\node [lbl] (tnjb) at (703,2350) {NJM1496D};
\node [lbl] (tqu) at (1157,2172) {jQ14};
\node [lblw] (tvrg) at (1293,2253) {jVR6\\Level\\adj.};
\node [lbl] (tqv) at (1103,2289) {jQ9};
\node [lblw] (tvv) at (718,2706) {VARIABLE\\VOLTAGE};
\node [lbl] (tjcf) at (824,2766) {jIC1};
\node [lbl] (tjcg) at (762,2827) {jIC1};
\node [pin] (tpaf) at (850,2814) {1};
\node [pin] (tpag) at (696,2848) {2};
\node [lbl] (tmin) at (734,2862) {$-$};
\node [lbl] (tcpl) at (800,2912) {+};
\node [lbl] (tpl5) at (1016,2656) {+};
\node [lbl] (tmi5) at (1019,2695) {$-$};
\node [pin] (tpah) at (983,2642) {5};
\node [pin] (tpai) at (985,2682) {6};
\node [pin] (tpaj) at (1092,2659) {7};
\node [lbl] (tjch) at (1152,2651) {jIC2};
\node [lbl] (tplb) at (1148,2745) {+};
\node [lbl] (tmib) at (1148,2784) {$-$};
\node [pin] (tpak) at (1113,2731) {3};
\node [pin] (tpal) at (1111,2768) {2};
\node [pin] (tpam) at (1221,2748) {1};
\node [lbl] (tbp) at (1016,2799) {+\,B};
\node [lbl] (tcomb) at (1095,2850) {COMPALATOR};
\node [lblw] (tone) at (946,2982) {ONE\ \ SHOT\\M.V};
\node [pin] (tpan) at (634,3067) {11};
\node [pin] (tpao) at (771,3065) {10};
\node [pin] (tpap) at (731,3102) {12};
\node [lbl] (tjci) at (653,3111) {jIC28};
\node [lbl] (tonh) at (769,3279) {ON};
\node [lblw] (tvrl) at (730,3363) {jVR1\\FADER\\DURATION};
\node [pin] (tpaq) at (941,3197) {8};
\node [pin] (tpar) at (1007,3200) {9};
\node [pin] (tpas) at (997,3281) {10};
\node [lbl] (tjcj) at (906,3235) {jIC7};
\node [lbl] (tonl) at (1187,3169) {ON};
\node [lbl] (tfad) at (1509,3289) {A. FADER};
\node [lbl] (tonn) at (1532,3322) {ON};
\node [lbl] (tpn4) at (1681,3347) {Page 4};
\node [lblw] (tbig) at (1261,3110) {jQ5,6\\[1.5pt]nIC7\ \ <\,FLIP-FLOP\,>\\oS43\ \ <\,AUTO FADER\\[1.5pt]ON/OFF oS44\ \ <\,IN/OUT\,>};
\node [lblw] (tlog) at (1331,2831) {AUTO FADER $\cdot$\\REMOT PAUSE\\LOGIC\\jIC4 $\sim$ 7};
\node [lbl] (tjck) at (1404,2605) {jIC8};
\node [pin] (tpat) at (1373,2641) {9};
\node [pin] (tpau) at (1437,2641) {11};
\node [lbl] (tvfp) at (1565,2677) {V.F.P};
\node [lbl] (tpv5) at (1709,2716) {(Page 5)};
\node [lbl] (tjqc) at (1852,3030) {jQ64};
\node [lbl] (tjqd) at (1870,3062) {65};
\node [pin,font=\fontsize{8}{8}\selectfont] (tpcam) at (1854,3210) {6};
\node [lblw] (tcamt) at (1794,3331) {CAMERA\\Terminal};
\node [pin,font=\fontsize{8}{8}\selectfont] (tpav) at (2033,3019) {2};
\node [pin,font=\fontsize{8}{8}\selectfont] (tpaw) at (2011,3134) {1};
\node [lbl] (tosa) at (2056,3140) {oS1};
\node [lbl] (tauto) at (2076,3194) {2:AUTO/1:MANUAL};
\node [pin,font=\fontsize{8}{8}\selectfont] (tpax) at (2209,3008) {2};
\node [pin,font=\fontsize{8}{8}\selectfont] (tpay) at (2197,3103) {1};
\node [lbl] (tosb) at (2127,3070) {oS2};
\node [lblw] (tpd2) at (2324,2830) {PAUSE\\DRIVE};
\node [lbl] (tjq8) at (2373,2921) {jQ8\\jZ1};
\node [lblw] (trempz) at (2318,3323) {REMOTE\\PAUSE};
\end{tikzpicture}
\end{document}
